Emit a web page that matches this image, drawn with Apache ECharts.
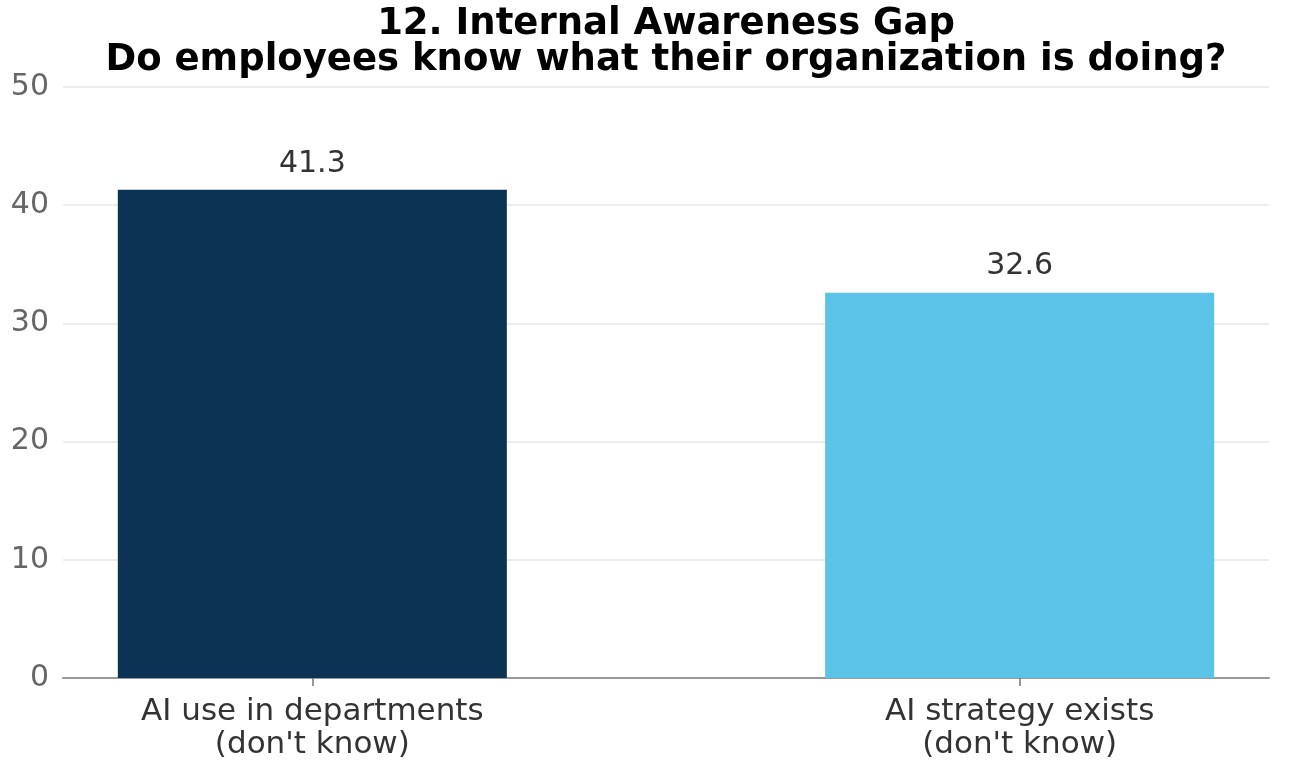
<!DOCTYPE html>
<html>
<head>
<meta charset="utf-8">
<script src="https://cdn.jsdelivr.net/npm/echarts@6/dist/echarts.min.js"></script>
<style>
  html, body { margin: 0; padding: 0; background: #fff; }
  #chart { width: 1296px; height: 760px; }
</style>
</head>
<body>
<div id="chart"></div>
<script>
const categories = ['AI use in departments\n(don\'t know)', 'AI strategy exists\n(don\'t know)']
const values = [41.3, 32.6]
const barColors = ['#0c3354', '#5bc3e8']
const yTicks = [0, 10, 20, 30, 40, 50]

const chart = echarts.init(document.getElementById('chart'))
const font = 'DejaVu Sans'

chart.setOption({
  backgroundColor: '#fff',
  animation: false,
  title: {
    text: '12. Internal Awareness Gap\nDo employees know what their organization is doing?',
    left: 661,
    top: 1,
    textAlign: 'center',
    textStyle: { fontFamily: font, fontWeight: 'bold', fontSize: 37, lineHeight: 36, color: '#000' }
  },
  grid: { left: 63, right: 27, top: 87, bottom: 82, outerBoundsMode: 'none' },
  xAxis: {
    type: 'value',
    min: -0.3525,
    max: 1.3525,
    axisLine: { show: true, onZero: false, lineStyle: { color: '#999', width: 2 } },
    axisTick: { show: true, customValues: [0, 1], length: 8, lineStyle: { color: '#777', width: 1.5 } },
    axisLabel: {
      customValues: [0, 1],
      formatter: (v) => categories[Math.round(v)],
      fontFamily: font, fontSize: 31, lineHeight: 33, color: '#333', margin: 17
    },
    splitLine: { show: false }
  },
  yAxis: {
    type: 'value',
    min: yTicks[0],
    max: yTicks[yTicks.length - 1],
    interval: 10,
    axisLine: { show: false },
    axisTick: { show: false },
    axisLabel: { fontFamily: font, fontSize: 30, color: '#666', margin: 14 },
    splitLine: { lineStyle: { color: '#e6e6e6', width: 1.5 } }
  },
  series: [{
    type: 'bar',
    barWidth: '55%',
    data: values.map((v, i) => ({ value: [i, v], itemStyle: { color: barColors[i] } })),
    label: {
      show: true,
      position: 'top',
      distance: 11,
      formatter: (p) => p.value[1].toFixed(1),
      fontFamily: font, fontSize: 30, color: '#333'
    }
  }]
})
</script>
</body>
</html>
